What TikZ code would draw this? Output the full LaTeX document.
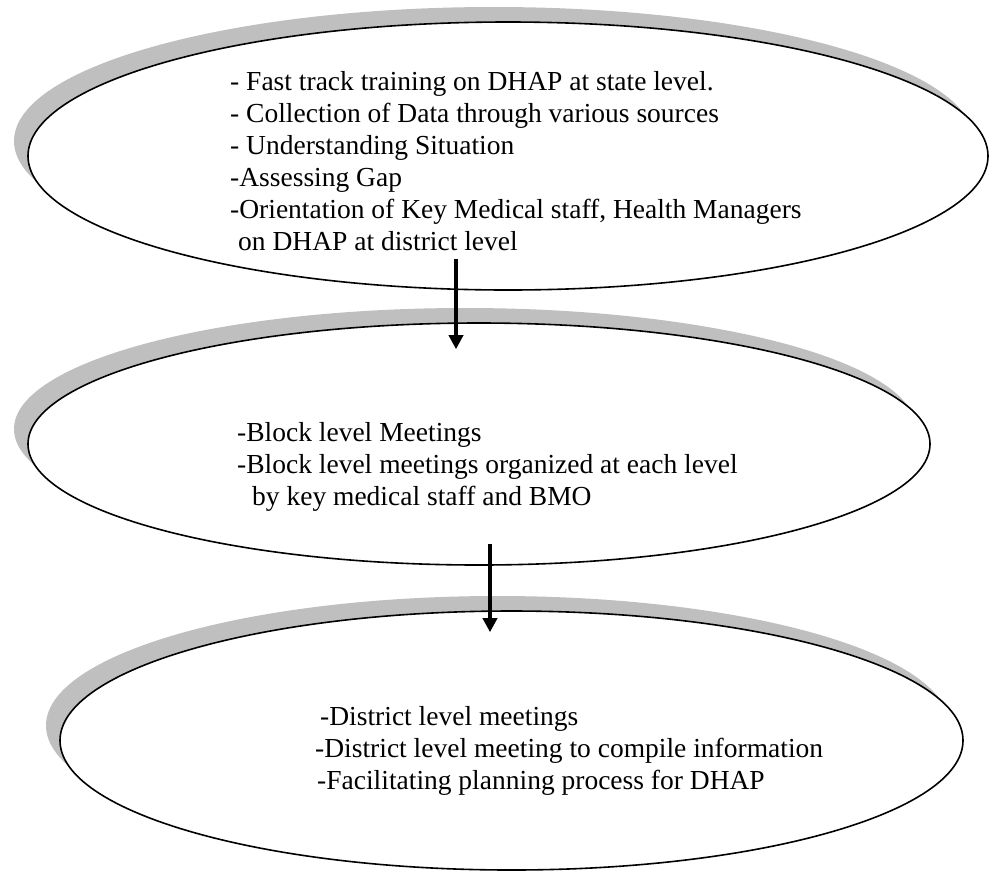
\documentclass[tikz,border=0pt]{standalone}
\usepackage{fontspec}
\setmainfont{Liberation Serif}
\usetikzlibrary{shapes.geometric,arrows.meta,calc}

\tikzset{
  stage/.style={ellipse, draw=black, line width=1.6pt, fill=white, inner sep=0pt},
  stageshadow/.style={ellipse, draw=none, fill=black!25, inner sep=0pt},
  notes/.style={anchor=north west, inner sep=0pt, align=left,
    font=\fontsize{27.5}{32}\selectfont},
  flow/.style={line width=4pt, -{Triangle[length=14pt,width=14pt]}}
}

\begin{document}
\begin{tikzpicture}[x=1pt,y=-1pt]
  \useasboundingbox (0,0) rectangle (990,871);

  % shadows, offset up and to the left
  \node[stageshadow, minimum width=960pt, minimum height=268pt] (sh1) at (494,141) {};
  \node[stage, minimum width=960pt, minimum height=268pt] (e1) at (508,156) {};

  \node[stageshadow, minimum width=902pt, minimum height=242pt] (sh2) at (465,429) {};
  \node[stage, minimum width=902pt, minimum height=242pt] (e2) at (479,444) {};

  \node[stageshadow, minimum width=903pt, minimum height=259pt] (sh3) at (497.5,725.5) {};
  \node[stage, minimum width=903pt, minimum height=259pt] (e3) at (511.5,740.5) {};

  % stage texts (first baseline sits 22.4pt below the node top because of \strut)
  \node[notes] (t1) at (230,67.6) {\strut- Fast track training on DHAP at state level.\\
    - Collection of Data through various sources\\
    - Understanding Situation\\
    -Assessing Gap\\
    -Orientation of Key Medical staff, Health Managers\\
    \hspace*{8pt}on DHAP at district level};

  \node[notes] (t2) at (237,418.6) {\strut-Block level Meetings\\
    -Block level meetings organized at each level\\
    \hspace*{15pt}by key medical staff and BMO};

  \node[notes] (t3) at (315,702.6) {\strut\hspace*{5pt}-District level meetings\\
    -District level meeting to compile information\\
    \hspace*{2pt}-Facilitating planning process for DHAP};

  % flow arrows between stages
  \coordinate (a1s) at ($(e1.south)+(-52,-32)$);
  \coordinate (a1e) at ($(e2.north)+(-23,27)$);
  \coordinate (a2s) at ($(e2.south)+(11,-22)$);
  \coordinate (a2e) at ($(e3.north)+(-21.5,22)$);
  \draw[flow] (a1s) -- (a1e);
  \draw[flow] (a2s) -- (a2e);
\end{tikzpicture}
\end{document}
